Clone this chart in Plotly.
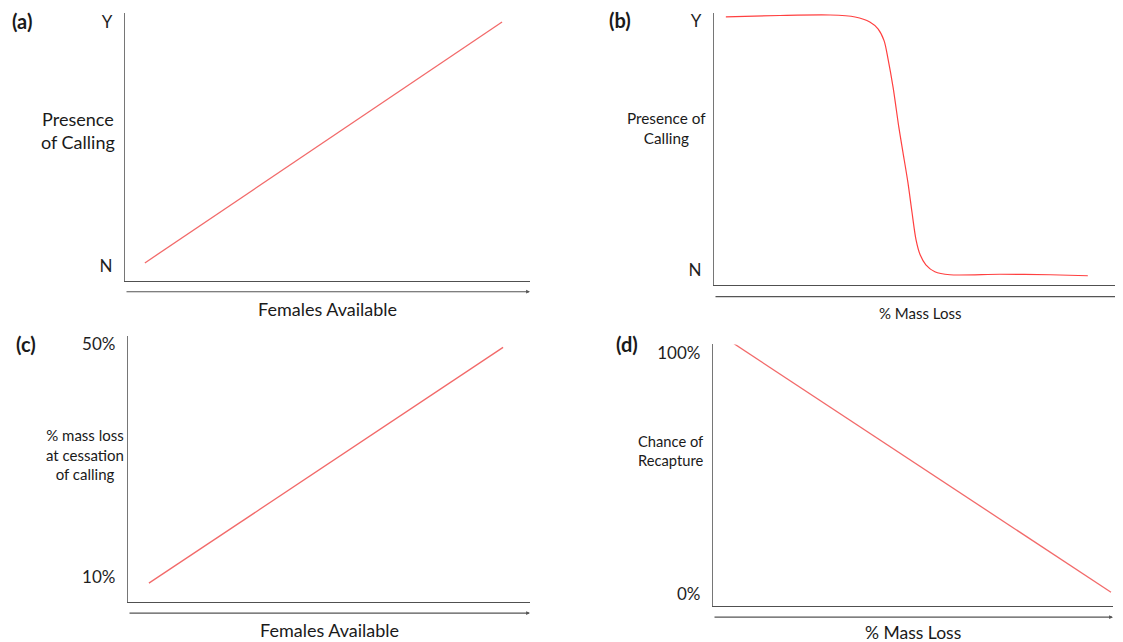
import plotly.graph_objects as go

# the page body adds an 8px offset; the figure is sized to fill the rest of the window
OFF = 8
W, H = 1123 - OFF, 642 - OFF
FONT = "Lato"

# ---------------- data (conceptual units) ----------------
# (a) presence of calling (N=0, Y=1) vs females available (0-100)
females_a = [4.9, 93.1]
calling_a = [0.012, 1.0]
ticks_a_vals = [0, 1]
ticks_a_text = ["N", "Y"]

# (b) presence of calling vs % mass loss (0-100)
massloss_b = [2.9, 16.1, 28.4, 34.5, 38.1, 40.1, 41.6, 42.5, 43.8, 45.2, 46.2,
              47.4, 48.4, 49.4, 50.4, 51.8, 54.0, 57.7, 69.9, 82.2, 91.4]
calling_b = [1.016, 1.022, 1.024, 1.016, 0.996, 0.968, 0.92, 0.852, 0.732, 0.572,
             0.472, 0.352, 0.232, 0.12, 0.06, 0.02, -0.008, -0.02, -0.018, -0.02, -0.024]
ticks_b_vals = [0, 1]
ticks_b_text = ["N", "Y"]

# (c) % mass loss at cessation of calling vs females available
females_c = [5.2, 93.3]
massloss_c = [9.0, 49.5]
ticks_c_vals = [10, 50]
ticks_c_text = ["10%", "50%"]

# (d) chance of recapture vs % mass loss
massloss_d = [5.25, 99.5]
recapture_d = [104.0, 0.8]
ticks_d_vals = [0, 100]
ticks_d_text = ["0%", "100%"]


def px_x(p):
    return (p - OFF) / W


def px_y(p):
    return 1 - (p - OFF) / H


fig = go.Figure()

fig.add_trace(go.Scatter(x=females_a, y=calling_a, mode="lines", xaxis="x", yaxis="y",
                         line=dict(color="#f26a6a", width=1.3), cliponaxis=False,
                         showlegend=False, hoverinfo="skip"))
fig.add_trace(go.Scatter(x=massloss_b, y=calling_b, mode="lines", xaxis="x2", yaxis="y2",
                         line=dict(color="#ff4040", width=1.2, shape="spline", smoothing=0.8),
                         cliponaxis=False, showlegend=False, hoverinfo="skip"))
fig.add_trace(go.Scatter(x=females_c, y=massloss_c, mode="lines", xaxis="x3", yaxis="y3",
                         line=dict(color="#f26a6a", width=1.3), cliponaxis=False,
                         showlegend=False, hoverinfo="skip"))
fig.add_trace(go.Scatter(x=massloss_d, y=recapture_d, mode="lines", xaxis="x4", yaxis="y4",
                         line=dict(color="#f26a6a", width=1.3), cliponaxis=False,
                         showlegend=False, hoverinfo="skip"))

xbase = dict(showgrid=False, zeroline=False, showline=True, linecolor="#505050",
             linewidth=1.4, ticks="", showticklabels=False, range=[0, 100], fixedrange=True)
ybase = dict(showgrid=False, zeroline=False, showline=True, linecolor="#767676",
             linewidth=1.3, ticks="", ticklabelstandoff=8, fixedrange=True,
             tickfont=dict(family=FONT, size=17, color="#1e1e1e"))

# panel pixel boxes in the screenshot: (left, right, top, bottom)
boxes = {
    "a": (125, 530, 10, 279),
    "b": (714, 1123, 10, 283),
    "c": (128, 530, 335, 602),
    "d": (713, 1113, 343, 606),
}
yranges = {
    "a": [-0.061, 1.037],
    "b": [-0.06, 1.032],
    "c": [5.73, 51.37],
    "d": [-4.96, 103.7],
}
ticks = {
    "a": (ticks_a_vals, ticks_a_text),
    "b": (ticks_b_vals, ticks_b_text),
    "c": (ticks_c_vals, ticks_c_text),
    "d": (ticks_d_vals, ticks_d_text),
}

layout_axes = {}
for i, k in enumerate(["a", "b", "c", "d"]):
    l, r, t, b = boxes[k]
    sx = "" if i == 0 else str(i + 1)
    layout_axes["xaxis" + sx] = dict(xbase, domain=[px_x(l), min(px_x(r), 1.0)],
                                     anchor="y" + sx)
    layout_axes["yaxis" + sx] = dict(ybase, domain=[px_y(b), px_y(t)], anchor="x" + sx,
                                     range=yranges[k], tickvals=ticks[k][0],
                                     ticktext=ticks[k][1])

fig.update_layout(**layout_axes)

annotations = []
# arrows under each x axis
arrow_specs = [("x", "y", -0.041, 1.0), ("x2", "y2", -0.044, 0.99),
               ("x3", "y3", -0.041, 1.0), ("x4", "y4", -0.042, 1.0)]
for xa, ya, yy, xend in arrow_specs:
    annotations.append(dict(x=xend, y=yy, xref=xa + " domain", yref=ya + " domain",
                            ax=0, ay=yy, axref=xa + " domain", ayref=ya + " domain",
                            text="", showarrow=True, arrowhead=2, arrowsize=0.7,
                            arrowwidth=1.1, arrowcolor="#555555", standoff=0))


def label(text, x, y, size, bold=False, align="center"):
    annotations.append(dict(text=f"<b>{text}</b>" if bold else text, x=px_x(x), y=px_y(y),
                            xref="paper", yref="paper", showarrow=False, xanchor="center",
                            yanchor="middle", align=align,
                            font=dict(family=FONT, size=size, color="#1a1a1a")))


# panel letters
label("(a)", 22, 18, 20, bold=True)
label("(b)", 620, 17, 20, bold=True)
label("(c)", 26, 343, 20, bold=True)
label("(d)", 627, 343, 20, bold=True)

# y-axis titles (horizontal)
label("Presence<br>of Calling", 78, 128, 18)
label("Presence of<br>Calling", 666, 126, 15.3)
label("% mass loss<br>at cessation<br>of calling", 85, 454, 15)
label("Chance of<br>Recapture", 670, 450, 14.7)

# x-axis titles
label("Females Available", 327, 307, 18)
label("% Mass Loss", 920, 311, 15)
label("Females Available", 329, 630, 18)
label("% Mass Loss", 913, 632, 17.5)

fig.update_layout(
    width=W, height=H,
    margin=dict(l=0, r=0, t=0, b=0),
    paper_bgcolor="white", plot_bgcolor="white",
    annotations=annotations,
    showlegend=False,
)

fig.write_html("out.html")
